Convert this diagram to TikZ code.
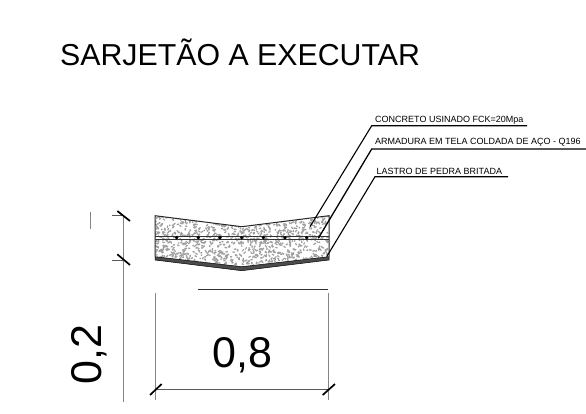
\documentclass[tikz,border=0pt]{standalone}
\usepackage{fontspec}
\setmainfont{Liberation Sans}
\usetikzlibrary{calc,positioning}
\definecolor{strich}{gray}{0.52}
\definecolor{korn}{gray}{0.62}
\tikzset{
  titel/.style={anchor=base west,inner sep=0pt,font=\fontsize{30.3}{30}\selectfont},
  mass/.style={anchor=base west,inner sep=0pt,font=\fontsize{43}{43}\selectfont},
  legende/.style={anchor=base west,inner sep=0pt,font=\fontsize{9}{9}\selectfont},
  leader/.style={black,line width=1.1pt},
  hilfslinie/.style={strich,line width=1.3pt},
  tick/.style={black,line width=1.7pt},
}
\begin{document}
\begin{tikzpicture}[x=1pt,y=-1pt]
\useasboundingbox (0,0) rectangle (586,413);
\pgfmathsetseed{42}
\node[titel] (titel) at (60,65) {SARJETÃO A EXECUTAR};
%Beton mit Koernung
\begin{scope}
\clip (155,215.7) -- (241.7,226.7) -- (329,215.7) -- (329,256.7) -- (241.7,266) -- (155,256.7) -- cycle;
\foreach \i in {1,...,1100}{
\pgfmathsetmacro{\px}{155+174*rnd}
\pgfmathsetmacro{\py}{215+52*rnd}
\pgfmathsetmacro{\qx}{2.5*rnd-1.25}
\pgfmathsetmacro{\qy}{2.5*rnd-1.25}
\fill[korn] (\px,\py) circle (0.9) (\px+\qx,\py+\qy) circle (0.8);
}
\end{scope}
\draw[black!85,line width=1pt] (155,256.7) -- (155,215.7) -- (241.7,226.7) -- (329,215.7) -- (329,256.7);
%Lastro
\fill[black!70,draw=black,line width=0.5pt] (155,256.7) -- (241.7,266.7) -- (329,256.7) -- (329,260) -- (241.7,270.7) -- (155,260) -- cycle;
%Armadura
\draw[black!80,line width=0.8pt] (155,236.6) -- (329,236.6);
\draw[black!80,line width=0.8pt] (155,239.4) -- (329,239.4);
\foreach \px in {176.7,198.3,220,241.7,263.3,285,306.7}{
\fill[black] (\px,237.7) circle (1.8);
}
%Legenden
\node[legende] (concreto) at (375,122) {CONCRETO USINADO FCK=20Mpa};
\node[legende] (armadura) at (375,144.5) {ARMADURA EM TELA COLDADA DE AÇO - Q196};
\node[legende] (lastro) at (376.5,174) {LASTRO DE PEDRA BRITADA};
\coordinate (c1) at (310,226.7);
\coordinate (c2) at (371.7,125.7);
\coordinate (c3) at (527,125.7);
\coordinate (a1) at (318.3,238.3);
\coordinate (a2) at (371.7,149);
\coordinate (a3) at (586,149);
\coordinate (l1) at (326.7,256.7);
\coordinate (l2) at (375,176.7);
\coordinate (l3) at (508,176.7);
\draw[leader] (c1) -- (c2) -- (c3);
\draw[leader,line width=1.3pt] (a1) -- (a2) -- (a3);
\draw[leader] (l1) -- (l2) -- (l3);
%Bemassung
\draw[hilfslinie] (123.3,215.7) -- (123.3,401.7);
\draw[hilfslinie] (90.7,211.7) -- (90.7,229);
\draw[hilfslinie] (155.3,293.3) -- (155.3,400);
\draw[hilfslinie] (328.3,293.3) -- (328.3,400);
\draw[black!65,line width=1pt] (112.3,215.7) -- (123.3,215.7);
\draw[black!65,line width=1pt] (112.3,260) -- (123.3,260);
\draw[black!65,line width=1.1pt] (155.3,389.3) -- (328.3,389.3);
\draw[black!80,line width=1.1pt] (198.3,289.3) -- (328.3,289.3);
\draw[tick] (117.3,211) -- (130,221);
\draw[tick] (117.3,254.3) -- (130,265);
\draw[tick] (150,395) -- (161.7,384);
\draw[tick] (322.7,395) -- (335,384);
\node[mass] (breite) at (212,367) {0,8};
\node[mass,rotate=90] (hoehe) at (101,385) {0,2};
\end{tikzpicture}
\end{document}
